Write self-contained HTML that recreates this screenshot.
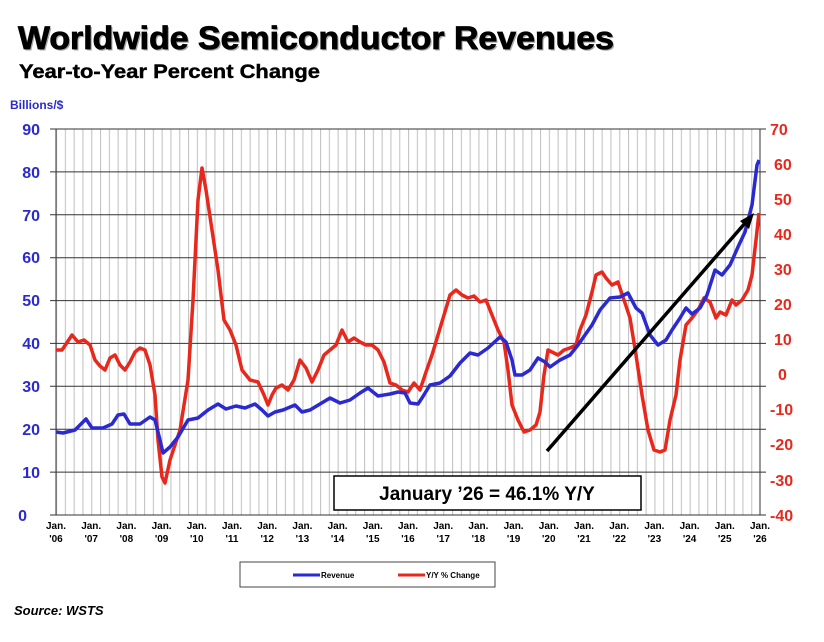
<!DOCTYPE html>
<html><head><meta charset="utf-8"><style>
body{margin:0;background:#fff;width:824px;height:637px;overflow:hidden}
</style></head><body>
<svg width="824" height="637" xmlns="http://www.w3.org/2000/svg" font-family="Liberation Sans, Arial, sans-serif">
<defs>
<pattern id="vp" x="56" y="0" width="8.8" height="10" patternUnits="userSpaceOnUse">
<line x1="0.5" y1="0" x2="0.5" y2="10" stroke="#c4c4c4" stroke-width="1.2"/>
</pattern>
</defs>
<text x="19.5" y="50.5" font-size="32" font-weight="bold" fill="#aaa" textLength="596" lengthAdjust="spacingAndGlyphs">Worldwide Semiconductor Revenues</text>
<text x="18" y="49" font-size="32" font-weight="bold" fill="#000" stroke="#000" stroke-width="0.8" textLength="596" lengthAdjust="spacingAndGlyphs">Worldwide Semiconductor Revenues</text>
<text x="19" y="78" font-size="19" font-weight="bold" fill="#000" stroke="#000" stroke-width="0.4" textLength="301" lengthAdjust="spacingAndGlyphs">Year-to-Year Percent Change</text>
<text x="10" y="109" font-size="12" font-weight="bold" fill="#2a2ad0">Billions/$</text>
<rect x="56" y="129" width="704" height="386" fill="url(#vp)"/>
<g stroke="#333" stroke-width="1">
<line x1="50" x2="766" y1="129" y2="129"/><line x1="50" x2="766" y1="171.9" y2="171.9"/><line x1="50" x2="766" y1="214.8" y2="214.8"/><line x1="50" x2="766" y1="257.7" y2="257.7"/><line x1="50" x2="766" y1="300.6" y2="300.6"/><line x1="50" x2="766" y1="343.4" y2="343.4"/><line x1="50" x2="766" y1="386.3" y2="386.3"/><line x1="50" x2="766" y1="429.2" y2="429.2"/><line x1="50" x2="766" y1="472.1" y2="472.1"/><line x1="50" x2="766" y1="515" y2="515"/>
</g>
<rect x="56" y="129" width="704" height="386" fill="none" stroke="#333" stroke-width="1"/>
<g font-size="16" font-weight="bold" fill="#2a2ad0" text-anchor="end">
<text x="40" y="135">90</text><text x="40" y="178">80</text><text x="40" y="221">70</text><text x="40" y="263">60</text><text x="40" y="306">50</text><text x="40" y="349">40</text><text x="40" y="392">30</text><text x="40" y="435">20</text><text x="40" y="478">10</text><text x="27" y="521">0</text>
</g>
<g font-size="16" font-weight="bold" fill="#e8281c">
<text x="770" y="135">70</text><text x="774" y="170">60</text><text x="774" y="205">50</text><text x="774" y="240">40</text><text x="774" y="275">30</text><text x="774" y="310">20</text><text x="774" y="345">10</text><text x="778" y="380">0</text><text x="770" y="415">-10</text><text x="770" y="450">-20</text><text x="770" y="486">-30</text><text x="770" y="521">-40</text>
</g>
<g font-size="10" font-weight="bold" fill="#000" text-anchor="middle">
<text x="56" y="529">Jan.</text><text x="56" y="542">'06</text>
<text x="91.2" y="529">Jan.</text><text x="91.2" y="542">'07</text>
<text x="126.4" y="529">Jan.</text><text x="126.4" y="542">'08</text>
<text x="161.6" y="529">Jan.</text><text x="161.6" y="542">'09</text>
<text x="196.8" y="529">Jan.</text><text x="196.8" y="542">'10</text>
<text x="232" y="529">Jan.</text><text x="232" y="542">'11</text>
<text x="267.2" y="529">Jan.</text><text x="267.2" y="542">'12</text>
<text x="302.4" y="529">Jan.</text><text x="302.4" y="542">'13</text>
<text x="337.6" y="529">Jan.</text><text x="337.6" y="542">'14</text>
<text x="372.8" y="529">Jan.</text><text x="372.8" y="542">'15</text>
<text x="408" y="529">Jan.</text><text x="408" y="542">'16</text>
<text x="443.2" y="529">Jan.</text><text x="443.2" y="542">'17</text>
<text x="478.4" y="529">Jan.</text><text x="478.4" y="542">'18</text>
<text x="513.6" y="529">Jan.</text><text x="513.6" y="542">'19</text>
<text x="548.8" y="529">Jan.</text><text x="548.8" y="542">'20</text>
<text x="584" y="529">Jan.</text><text x="584" y="542">'21</text>
<text x="619.2" y="529">Jan.</text><text x="619.2" y="542">'22</text>
<text x="654.4" y="529">Jan.</text><text x="654.4" y="542">'23</text>
<text x="689.6" y="529">Jan.</text><text x="689.6" y="542">'24</text>
<text x="724.8" y="529">Jan.</text><text x="724.8" y="542">'25</text>
<text x="760" y="529">Jan.</text><text x="760" y="542">'26</text>
</g>
<polyline fill="none" stroke="#e8281c" stroke-width="3.5" stroke-linejoin="round" points="56,350 62,350 66,344 72,335 78,342 84,340 90,345 95,360 100,366 105,370 110,358 115,355 120,365 125,370 130,362 135,352 140,348 145,350 150,365 155,395 158,440 162,477 165,483 170,460 180,430 188,380 193,300 198,200 202,168 206,190 212,230 218,270 224,320 230,330 236,345 242,370 250,380 258,382 264,395 268,405 272,395 276,388 282,385 288,390 294,380 300,360 306,368 312,382 318,370 324,355 330,350 336,345 342,330 348,342 354,338 360,342 366,345 372,345 378,350 384,362 390,383 396,385 402,390 408,392 414,383 420,390 426,372 432,355 438,335 444,315 450,295 456,290 462,295 468,298 474,296 480,302 486,300 492,315 498,330 504,342 508,370 512,405 518,420 524,432 530,430 536,425 540,412 544,375 548,350 552,352 558,355 564,350 570,348 576,345 580,330 586,315 592,292 596,275 602,272 606,278 612,285 618,282 624,300 630,318 636,355 642,395 648,430 654,450 660,452 665,450 670,420 676,395 680,360 686,325 692,318 698,310 704,298 710,302 716,318 720,312 726,315 732,300 736,305 742,300 748,290 752,275 756,240 759,213"/>
<polyline fill="none" stroke="#2a2ad0" stroke-width="3.5" stroke-linejoin="round" points="56,432 63,433 75,430 86,419 92,428 103,428 112,424 118,415 124,414 130,424 140,424 150,417 155,420 160,440 163,453 170,447 178,437 188,420 198,418 208,410 218,404 226,409 236,406 245,408 255,404 262,410 268,416 275,412 283,410 295,405 302,412 310,410 320,404 330,398 340,403 350,400 360,393 368,388 378,396 390,394 398,392 405,393 410,403 418,404 422,398 430,385 440,383 450,376 460,363 470,353 478,355 488,348 500,337 506,342 512,360 515,375 522,375 530,370 538,358 545,362 550,367 560,360 570,355 578,345 585,335 592,325 600,310 610,298 620,297 628,293 636,308 642,313 650,335 658,345 666,340 672,330 680,318 686,308 692,314 700,308 707,295 715,270 722,275 730,265 738,247 745,232 752,205 757,165 759,160"/>
<line x1="547" y1="451" x2="746" y2="222" stroke="#000" stroke-width="3.5"/>
<polygon points="754,213 740,221 749,229" fill="#000"/>
<rect x="334" y="476" width="307" height="34" fill="#fff" stroke="#000" stroke-width="1.5"/>
<text x="487" y="500" font-size="19" font-weight="bold" text-anchor="middle" fill="#000">January ’26 = 46.1% Y/Y</text>
<rect x="240" y="562" width="255" height="25" fill="#fff" stroke="#444" stroke-width="1"/>
<line x1="293" y1="575" x2="320" y2="575" stroke="#2a2ad0" stroke-width="3"/>
<text x="321" y="578" font-size="8" font-weight="bold">Revenue</text>
<line x1="398" y1="575" x2="425" y2="575" stroke="#e8281c" stroke-width="3"/>
<text x="426" y="578" font-size="8" font-weight="bold">Y/Y % Change</text>
<text x="14" y="615" font-size="13" font-weight="bold" font-style="italic">Source: WSTS</text>
</svg>
</body></html>
